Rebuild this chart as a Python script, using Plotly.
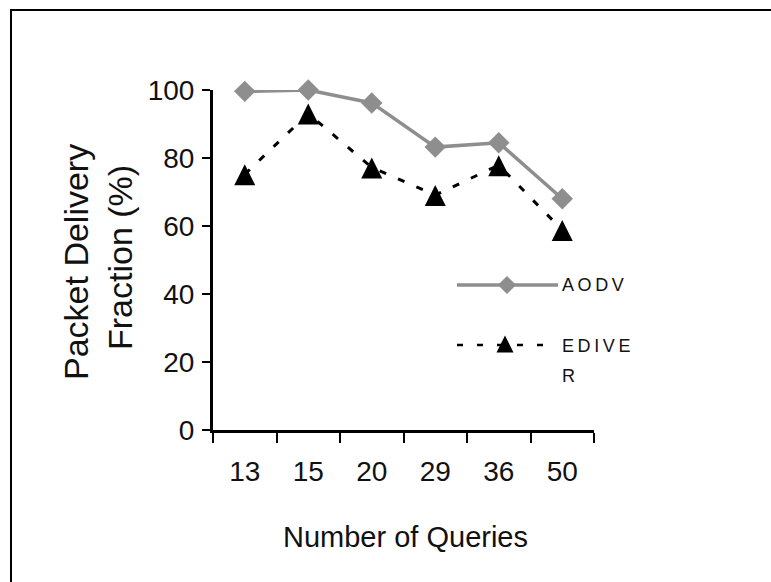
import plotly.graph_objects as go

# ---- data ----
queries = ["13", "15", "20", "29", "36", "50"]
aodv = [99.6, 100, 96.2, 83.2, 84.5, 68.0]
ediver = [75.2, 93.1, 77.2, 69.1, 77.9, 58.8]
y_ticks = [0, 20, 40, 60, 80, 100]
x_title = "Number of Queries"
y_title_lines = ["Packet Delivery", "Fraction (%)"]
series_names = ["AODV", "EDIVER"]

# ---- layout geometry (pixels) ----
W, H = 771, 582
L, R, T, B = 213, 177, 80, 152
PLOT_W = W - L - R          # 381
PAPER_H = H - T - B         # 350
SHIFT = 10                  # half height of triangle marker
Y_AX_H = PAPER_H - SHIFT    # 340

def px_x(p):
    return (p - L) / PLOT_W

def px_y(p):
    return (H - B - p) / PAPER_H

FONT = "Liberation Sans, Arial, sans-serif"
GRAY = "#8e8e8e"
TXT = "#111111"

fig = go.Figure()

# AODV line + diamonds
fig.add_trace(go.Scatter(
    x=queries, y=aodv, mode="lines+markers", name=series_names[0],
    line=dict(color=GRAY, width=3.5),
    marker=dict(symbol="diamond", size=16.5, color=GRAY),
    cliponaxis=False, xaxis="x", yaxis="y", showlegend=False))

# EDIVER dashed line
fig.add_trace(go.Scatter(
    x=queries, y=ediver, mode="lines", name=series_names[1],
    line=dict(color="black", width=3, dash="7px,13px"),
    cliponaxis=False, xaxis="x", yaxis="y", showlegend=False))

# EDIVER triangle markers (apex-anchored symbol on an axis shifted up by SHIFT px)
fig.add_trace(go.Scatter(
    x=queries, y=ediver, mode="markers", name=series_names[1],
    marker=dict(symbol="arrow-up", size=21, color="black", line=dict(width=0)),
    cliponaxis=False, xaxis="x", yaxis="y2", showlegend=False))

# legend sample markers on a pixel overlay axis
fig.add_trace(go.Scatter(
    x=[507], y=[285], mode="markers",
    marker=dict(symbol="diamond", size=14, color=GRAY),
    xaxis="x3", yaxis="y3", showlegend=False, cliponaxis=False, hoverinfo="skip"))
fig.add_trace(go.Scatter(
    x=[505], y=[344 - 8.5], mode="markers",
    marker=dict(symbol="arrow-up", size=17, color="black", line=dict(width=0)),
    xaxis="x3", yaxis="y3", showlegend=False, cliponaxis=False, hoverinfo="skip"))

shapes = [
    # frame (top and left edges)
    dict(type="line", xref="paper", yref="paper", x0=px_x(10), x1=px_x(771),
         y0=px_y(10), y1=px_y(10), line=dict(color="black", width=2)),
    dict(type="line", xref="paper", yref="paper", x0=px_x(11), x1=px_x(11),
         y0=px_y(9), y1=px_y(582), line=dict(color="black", width=2)),
    # legend lines
    dict(type="line", xref="paper", yref="paper", x0=px_x(457), x1=px_x(558),
         y0=px_y(285), y1=px_y(285), line=dict(color=GRAY, width=3.5), layer="below"),
    dict(type="line", xref="paper", yref="paper", x0=px_x(457), x1=px_x(546),
         y0=px_y(345), y1=px_y(345), line=dict(color="black", width=2.5, dash="6px,14px"),
         layer="below"),
]

TS = "\u2009"
annotations = [
    dict(text=x_title, xref="paper", yref="paper", x=px_x(405), y=px_y(537),
         xanchor="center", yanchor="middle", showarrow=False,
         font=dict(family=FONT, size=29, color=TXT)),
    dict(text=y_title_lines[0], xref="paper", yref="paper", x=px_x(76), y=px_y(262),
         xanchor="center", yanchor="middle", textangle=-90, showarrow=False,
         font=dict(family=FONT, size=34, color=TXT)),
    dict(text=y_title_lines[1], xref="paper", yref="paper", x=px_x(120), y=px_y(258),
         xanchor="center", yanchor="middle", textangle=-90, showarrow=False,
         font=dict(family=FONT, size=34, color=TXT)),
    dict(text=TS.join("AODV"), xref="paper", yref="paper", x=px_x(560), y=px_y(285),
         xanchor="left", yanchor="middle", showarrow=False,
         font=dict(family=FONT, size=18, color=TXT)),
    dict(text="E" + TS + TS.join("DIVE"), xref="paper", yref="paper", x=px_x(560), y=px_y(346),
         xanchor="left", yanchor="middle", showarrow=False,
         font=dict(family=FONT, size=18, color=TXT)),
    dict(text="R", xref="paper", yref="paper", x=px_x(560), y=px_y(376),
         xanchor="left", yanchor="middle", showarrow=False,
         font=dict(family=FONT, size=18, color=TXT)),
]

fig.update_layout(
    width=W, height=H,
    margin=dict(l=L, r=R, t=T, b=B, pad=0),
    paper_bgcolor="white", plot_bgcolor="rgba(0,0,0,0)",
    showlegend=False,
    shapes=shapes, annotations=annotations,
    xaxis=dict(type="category", categoryorder="array", categoryarray=queries,
               range=[-0.5, 5.5], domain=[0, 1], anchor="y",
               tickson="boundaries", ticks="outside", ticklen=10, tickwidth=2,
               tickcolor="black", showline=True, linecolor="black", linewidth=3,
               showgrid=False, zeroline=False, ticklabelstandoff=14,
               tickfont=dict(family=FONT, size=28, color=TXT)),
    yaxis=dict(range=[0, 100], domain=[0, Y_AX_H / PAPER_H], anchor="x",
               tickvals=y_ticks, ticks="outside", ticklen=8, tickwidth=2,
               tickcolor="black", showline=True, linecolor="black", linewidth=3,
               showgrid=False, zeroline=False, ticklabelstandoff=2,
               tickfont=dict(family=FONT, size=28, color=TXT)),
    yaxis2=dict(range=[0, 100], domain=[SHIFT / PAPER_H, 1], anchor="x",
                visible=False, showgrid=False, zeroline=False),
    xaxis3=dict(range=[L, L + PLOT_W], domain=[0, 1], anchor="y3",
                visible=False, showgrid=False, zeroline=False),
    yaxis3=dict(range=[H - B, T], domain=[0, 1], anchor="x3",
                visible=False, showgrid=False, zeroline=False),
)

fig.write_html("out.html")
